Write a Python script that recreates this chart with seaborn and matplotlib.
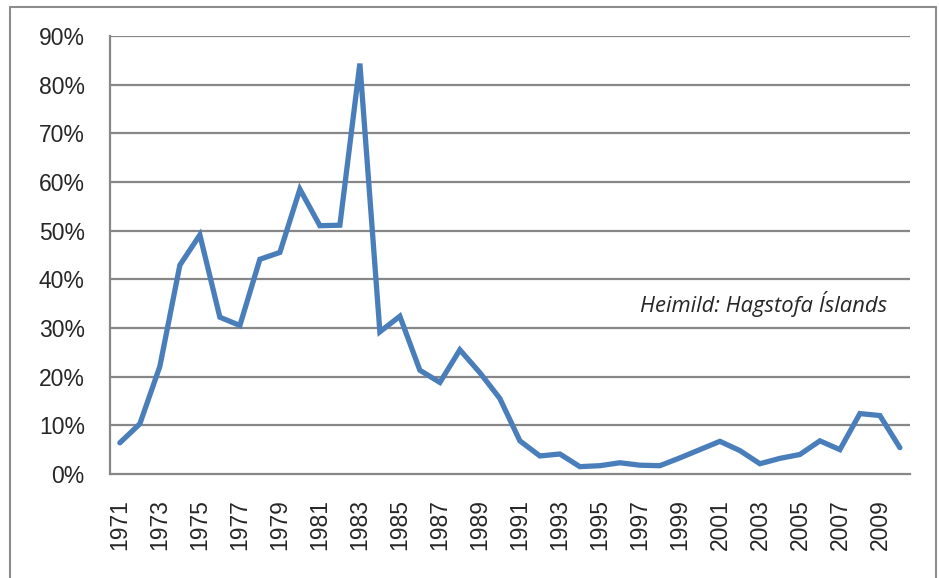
import numpy as np
import pandas as pd
import matplotlib
matplotlib.use("Agg")
import matplotlib.pyplot as plt
from matplotlib.lines import Line2D
from matplotlib.ticker import FixedLocator, PercentFormatter
import seaborn as sns

# Verðbólga á Íslandi, ársbreyting vísitölu neysluverðs (%)
years = list(range(1971, 2011))
inflation = [6.4, 10.3, 22.1, 42.9, 49.1, 32.2, 30.5, 44.1, 45.5, 58.5,
             51.0, 51.1, 84.3, 29.2, 32.4, 21.3, 18.8, 25.5, 20.8, 15.5,
             6.8, 3.7, 4.1, 1.5, 1.7, 2.3, 1.8, 1.7, 3.3, 5.0,
             6.7, 4.8, 2.1, 3.2, 4.0, 6.8, 5.0, 12.4, 12.0, 5.4]
y_ticks = [0, 10, 20, 30, 40, 50, 60, 70, 80, 90]
source_note = "Heimild: Hagstofa Íslands"

df = pd.DataFrame({"year": years, "inflation": inflation})

sns.set_style("white")
plt.rcParams["font.family"] = ["Liberation Sans", "DejaVu Sans"]

grid_col = "#878787"
line_col = "#4a7ebb"

fig = plt.figure(figsize=(9.39, 5.78), dpi=100)
ax = fig.add_axes([0.117, 0.180, 0.852, 0.758])

for v in y_ticks[1:]:
    ax.axhline(v, color=grid_col, lw=1.6, zorder=1)

sns.lineplot(data=df, x="year", y="inflation", ax=ax, color=line_col,
             lw=3.8, solid_joinstyle="miter", zorder=3)

ax.set_xlim(years[0] - 0.5, years[-1] + 0.5)
ax.set_ylim(0, 90)
ax.set_yticks(y_ticks)
ax.yaxis.set_major_formatter(PercentFormatter(decimals=0))

# category boundaries carry tick marks, every other year gets a label
ax.xaxis.set_major_locator(FixedLocator([y - 0.5 for y in years] + [years[-1] + 0.5]))
ax.xaxis.set_major_formatter(plt.NullFormatter())
ax.xaxis.set_minor_locator(FixedLocator(years[::2]))
ax.set_xticklabels([str(y) for y in years[::2]], minor=True, rotation=90, fontsize=16.5)
ax.tick_params(axis="x", which="major", length=6, width=1.6, color=grid_col, direction="out")
ax.tick_params(axis="x", which="minor", length=0, pad=18)
ax.tick_params(axis="y", length=6, width=1.6, color=grid_col, direction="out",
               pad=12, labelsize=16.5)

for s in ["top", "right"]:
    ax.spines[s].set_visible(False)
for s in ["left", "bottom"]:
    ax.spines[s].set_color(grid_col)
    ax.spines[s].set_linewidth(1.6)

ax.set_xlabel("")
ax.set_ylabel("")

ax.text(0.971, 0.387, source_note, transform=ax.transAxes, ha="right", va="center",
        fontsize=15.8, style="italic", family=["Open Sans", "DejaVu Sans"])

# outer frame of the chart area
W, H = 939, 578
frame_kw = dict(color="#8c8c8c", lw=1.5, transform=fig.transFigure)
fig.add_artist(Line2D([10 / W, 10 / W], [0, 1 - 7 / H], **frame_kw))
fig.add_artist(Line2D([10 / W, 936 / W], [1 - 7 / H, 1 - 7 / H], **frame_kw))
fig.add_artist(Line2D([936 / W, 936 / W], [0, 1 - 7 / H], **frame_kw))

fig.savefig("out.png", dpi=100)
